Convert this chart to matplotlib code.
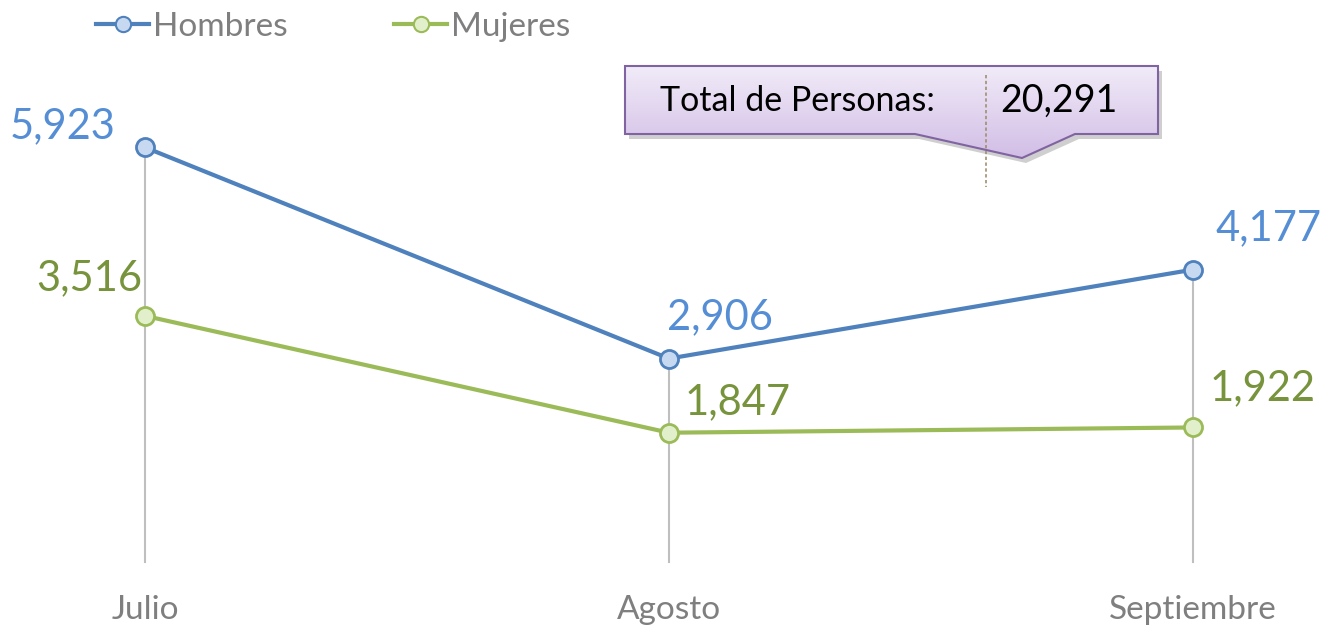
import numpy as np
import matplotlib.pyplot as plt
from matplotlib.patches import Polygon
from matplotlib.lines import Line2D
from matplotlib.colors import LinearSegmentedColormap

meses = ["Julio", "Agosto", "Septiembre"]
hombres = [5923, 2906, 4177]
mujeres = [3516, 1847, 1922]
total = 20291

plt.rcParams['font.family'] = ['Lato', 'DejaVu Sans']

W, H = 1333, 631
fig = plt.figure(figsize=(W / 100, H / 100), dpi=100)
# axes spans category centres; y zero at px 562, 7000 at px 72
ax = fig.add_axes([145 / W, (H - 562) / H, (1193 - 145) / W, (562 - 72) / H])
ax.set_xlim(0, 2)
ax.set_ylim(0, 7000)
ax.axis('off')

x = np.arange(len(meses))
blue, green = '#4F81BD', '#9BBB59'

# drop lines
for i in x:
    ax.plot([i, i], [0, max(hombres[i], mujeres[i])], color='#BFBFBF', lw=1.5, zorder=1, clip_on=False)

ax.plot(x, hombres, color=blue, lw=3, marker='o', ms=13, mfc='#C6D9F1', mec=blue, mew=2,
        zorder=3, clip_on=False)
ax.plot(x, mujeres, color=green, lw=3, marker='o', ms=13, mfc='#E2EFCB', mec=green, mew=2,
        zorder=3, clip_on=False)

# data labels (offsets in points)
h_off = [(-59, 15), (37, 30), (54, 30)]
m_off = [(-40, 27), (49, 22), (50, 28)]
for i in x:
    ax.annotate(f'{hombres[i]:,}', (i, hombres[i]), xytext=h_off[i], textcoords='offset points',
                ha='center', va='center', fontsize=30, color='#558ED5')
    ax.annotate(f'{mujeres[i]:,}', (i, mujeres[i]), xytext=m_off[i], textcoords='offset points',
                ha='center', va='center', fontsize=30, color='#77933C')

# category labels
for i, m in enumerate(meses):
    ax.text(i, -690, m, ha='center', va='center', fontsize=24, color='#7F7F7F')

# legend
handles = [Line2D([0], [0], color=blue, lw=3, marker='o', ms=11, mfc='#C6D9F1', mec=blue, mew=1.5),
           Line2D([0], [0], color=green, lw=3, marker='o', ms=11, mfc='#E2EFCB', mec=green, mew=1.5)]
leg = fig.legend(handles, ["Hombres", "Mujeres"], loc='center left', bbox_to_anchor=(96 / W, 1 - 27 / H),
                 ncol=2, frameon=False, fontsize=24, handlelength=1.6, handletextpad=0.1,
                 columnspacing=3.2, borderaxespad=0, borderpad=0)
for t in leg.get_texts():
    t.set_color('#7F7F7F')

# callout box
def px(xp, yp):
    return (xp / W, 1 - yp / H)

outline = [px(625, 66), px(1158, 66), px(1158, 134), px(1075, 134), px(1022, 158),
           px(915, 134), px(625, 134)]
shadow = [(a + 4 / W, b - 5 / H) for a, b in outline]
fig.patches.append(Polygon(shadow, closed=True, transform=fig.transFigure, fc='#A0A0A0',
                           ec='none', alpha=0.5, zorder=4))
gax = fig.add_axes([0, 0, 1, 1], zorder=5)
gax.axis('off')
gax.set_xlim(0, 1)
gax.set_ylim(0, 1)
cmap = LinearSegmentedColormap.from_list('lav', ['#D2BEE6', '#F1EBF8'])
grad = np.linspace(0, 1, 100).reshape(-1, 1)
im = gax.imshow(grad, cmap=cmap, origin='lower', aspect='auto',
                extent=(625 / W, 1158 / W, 1 - 158 / H, 1 - 66 / H))
clip = Polygon(outline, closed=True, transform=gax.transAxes, fc='none', ec='none')
gax.add_patch(clip)
im.set_clip_path(clip)
gax.plot([986 / W, 986 / W], [1 - 75 / H, 1 - 187 / H], color='#A09070', lw=1.2,
         ls=(0, (2, 1.5)), zorder=6)
gax.add_patch(Polygon(outline, closed=True, fc='none', ec='#8064A2', lw=1.5, zorder=7))
gax.text(660 / W, 1 - 101 / H, "Total de Personas:", ha='left', va='center', fontsize=24.5,
         color='black', zorder=8)
gax.text(1059 / W, 1 - 101 / H, f'{total:,}', ha='center', va='center', fontsize=27,
         color='black', zorder=8)

fig.savefig('out.png', dpi=100)
